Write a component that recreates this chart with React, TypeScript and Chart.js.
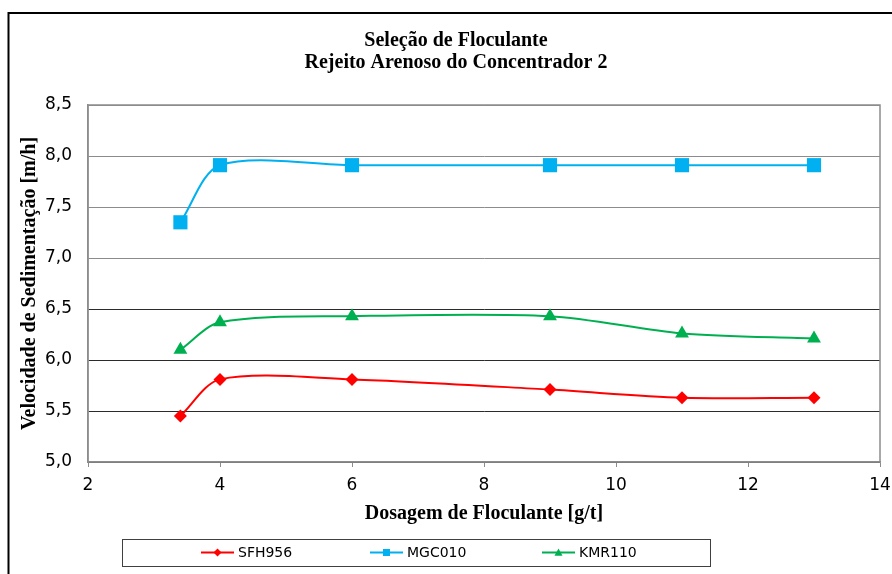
import { useEffect, useRef } from 'react';
import { Chart, registerables } from 'chart.js';

Chart.register(...registerables);

// Flocculant dosage [g/t] tested for every product
const dosagem = [3.4, 4, 6, 9, 11, 13];

// Settling velocity [m/h] per flocculant
const sfh956 = [5.45, 5.81, 5.81, 5.71, 5.63, 5.63];
const mgc010 = [7.35, 7.91, 7.91, 7.91, 7.91, 7.91];
const kmr110 = [6.1, 6.37, 6.43, 6.43, 6.26, 6.21];

const seriesNames = ['SFH956', 'MGC010', 'KMR110'];
const seriesColors = ['#ff0000', '#00b0f0', '#00b050'];
const seriesMarkers = ['rectRot', 'rect', 'triangle'];
const markerRadius = [6.5, 10, 8];

const titleLines = ['Seleção de Floculante', 'Rejeito Arenoso do Concentrador 2'];
const xTitle = 'Dosagem de Floculante [g/t]';
const yTitle = 'Velocidade de Sedimentação [m/h]';

const serifBold = '"Liberation Serif", "Times New Roman", serif';
const sans = '"DejaVu Sans", Verdana, sans-serif';

// Legend frame and item placement
const legendFrame = { left: 122, top: 539, right: 710, bottom: 566 };
const legendItemX = [201, 370, 542];
const legendLineLength = 33;

function drawMarker(ctx: CanvasRenderingContext2D, style: string, x: number, y: number, r: number, color: string) {
  ctx.save();
  ctx.fillStyle = color;
  ctx.beginPath();
  if (style === 'rectRot') {
    ctx.moveTo(x, y - r);
    ctx.lineTo(x + r, y);
    ctx.lineTo(x, y + r);
    ctx.lineTo(x - r, y);
  } else if (style === 'rect') {
    ctx.rect(x - r, y - r, 2 * r, 2 * r);
  } else {
    ctx.moveTo(x, y - r);
    ctx.lineTo(x + r, y + r * 0.8);
    ctx.lineTo(x - r, y + r * 0.8);
  }
  ctx.closePath();
  ctx.fill();
  ctx.restore();
}

// Outer frame of the whole figure
const outerFrame = {
  id: 'outerFrame',
  beforeDraw(chart: any) {
    const { ctx, width, height } = chart;
    ctx.save();
    ctx.fillStyle = '#ffffff';
    ctx.fillRect(0, 0, width, height);
    ctx.strokeStyle = '#000000';
    ctx.lineWidth = 2;
    ctx.beginPath();
    ctx.moveTo(width + 2, 13);
    ctx.lineTo(8.5, 13);
    ctx.lineTo(8.5, height + 2);
    ctx.stroke();
    ctx.restore();
  },
};

// Grey border around the plotting area
const plotFrame = {
  id: 'plotFrame',
  beforeDatasetsDraw(chart: any) {
    const { ctx, chartArea } = chart;
    ctx.save();
    ctx.strokeStyle = '#8c8c8c';
    ctx.lineWidth = 1.5;
    ctx.strokeRect(chartArea.left, chartArea.top, chartArea.right - chartArea.left, chartArea.bottom - chartArea.top);
    ctx.restore();
  },
};

// Boxed legend with line-and-marker keys
const boxedLegend = {
  id: 'boxedLegend',
  afterDraw(chart: any) {
    const { ctx } = chart;
    const f = legendFrame;
    const cy = (f.top + f.bottom) / 2;
    ctx.save();
    ctx.strokeStyle = '#404040';
    ctx.lineWidth = 1;
    ctx.strokeRect(f.left + 0.5, f.top + 0.5, f.right - f.left, f.bottom - f.top);
    chart.data.datasets.forEach((ds: any, i: number) => {
      const x0 = legendItemX[i];
      ctx.strokeStyle = ds.borderColor;
      ctx.lineWidth = 2;
      ctx.beginPath();
      ctx.moveTo(x0, cy);
      ctx.lineTo(x0 + legendLineLength, cy);
      ctx.stroke();
      const r = ds.pointStyle === 'rect' ? 3.5 : 4;
      drawMarker(ctx, ds.pointStyle, x0 + legendLineLength / 2, cy, r, ds.borderColor);
      ctx.fillStyle = '#000000';
      ctx.font = `14px ${sans}`;
      ctx.textAlign = 'left';
      ctx.textBaseline = 'middle';
      ctx.fillText(ds.label, x0 + legendLineLength + 4, cy + 1);
    });
    ctx.restore();
  },
};

export default function App() {
  const canvasRef = useRef<HTMLCanvasElement | null>(null);

  useEffect(() => {
    if (!canvasRef.current) return;
    const values = [sfh956, mgc010, kmr110];
    const chart = new Chart(canvasRef.current, {
      type: 'line',
      data: {
        datasets: values.map((vals, i) => ({
          label: seriesNames[i],
          data: dosagem.map((x, j) => ({ x, y: vals[j] })),
          borderColor: seriesColors[i],
          backgroundColor: seriesColors[i],
          pointBackgroundColor: seriesColors[i],
          pointBorderColor: seriesColors[i],
          pointBorderWidth: 0,
          pointStyle: seriesMarkers[i] as any,
          pointRadius: markerRadius[i],
          borderWidth: 2,
          tension: 0.3,
          fill: false,
        })),
      },
      options: {
        animation: false,
        responsive: true,
        maintainAspectRatio: false,
        layout: { padding: { left: 32, right: 12, top: 0, bottom: 48 } },
        plugins: {
          legend: { display: false },
          tooltip: { enabled: false },
          title: {
            display: true,
            text: titleLines,
            color: '#000000',
            font: { family: serifBold, size: 20, weight: 'bold', lineHeight: 1.1 },
            padding: { top: 30, bottom: 31 },
          },
        },
        scales: {
          x: {
            type: 'linear',
            min: 2,
            max: 14,
            ticks: {
              stepSize: 2,
              color: '#000000',
              font: { family: sans, size: 17 },
              padding: 8,
            },
            grid: {
              display: true,
              drawOnChartArea: false,
              drawTicks: true,
              tickLength: 5,
              color: '#8c8c8c',
            },
            border: { display: true, color: '#8c8c8c', width: 1.5 },
            title: {
              display: true,
              text: xTitle,
              color: '#000000',
              font: { family: serifBold, size: 20, weight: 'bold', lineHeight: 1.2 },
              padding: { top: 0, bottom: 0 },
            },
            afterFit(scale: any) {
              scale.height = 64;
              scale.paddingLeft = 0;
              scale.paddingRight = 0;
            },
          },
          y: {
            type: 'linear',
            min: 5,
            max: 8.5,
            ticks: {
              stepSize: 0.5,
              color: '#000000',
              font: { family: sans, size: 17 },
              padding: 16,
              callback: (v: any) => Number(v).toFixed(1).replace('.', ','),
            },
            grid: {
              drawTicks: false,
              lineWidth: 1,
              color: (c: any) => (c.tick && c.tick.value >= 7 ? '#8c8c8c' : '#2b2b2b'),
            },
            border: { display: true, color: '#8c8c8c', width: 1.5 },
            title: {
              display: true,
              text: yTitle,
              color: '#000000',
              font: { family: serifBold, size: 20, weight: 'bold', lineHeight: 1.2 },
              padding: { top: -14, bottom: 0 },
            },
            afterFit(scale: any) {
              scale.width = 56;
            },
          },
        },
      },
      plugins: [outerFrame, plotFrame, boxedLegend],
    });
    return () => chart.destroy();
  }, []);

  return (
    <div style={{ position: 'fixed', left: 0, top: 0, width: 892, height: 574 }}>
      <canvas ref={canvasRef} />
    </div>
  );
}
